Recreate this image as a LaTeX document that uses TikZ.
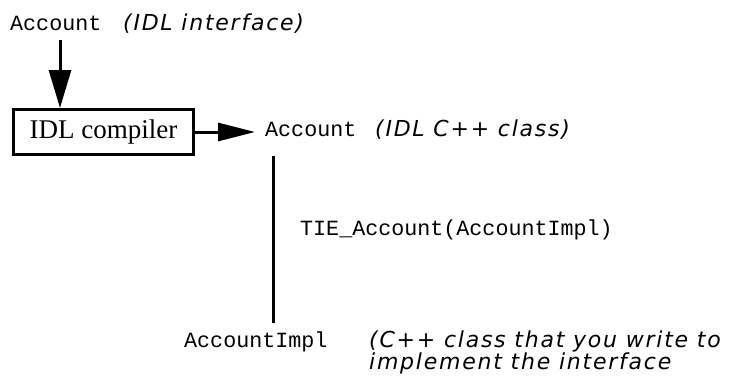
\documentclass[tikz,border=0pt]{standalone}
\usepackage{fontspec}
\setmainfont{Liberation Serif}
\newfontfamily\codefont{Liberation Mono}
\newfontfamily\notefont{DejaVu Sans}[LetterSpace=8]
\usepackage{tikz}
\usetikzlibrary{arrows.meta}

\begin{document}
\begin{tikzpicture}[x=1pt, y=-1pt]
				\tikzstyle{code}=[inner sep=0pt, anchor=base west, font=\codefont\fontsize{21.7}{26}\selectfont]
				\tikzstyle{note}=[inner sep=0pt, anchor=base west, font=\notefont\itshape\fontsize{22}{26}\selectfont]
				\tikzstyle{arr}=[-{Triangle[length=37pt,width=20pt]}, line width=3pt]
				\useasboundingbox (0,0) rectangle (734,381);
				%%% IDL INTERFACE %%%
				\node[code] (idl) at (10,30) {Account};
				\node[note] (idlnote) at (123,30) {(IDL interface)};
				%compiler box
				\node[draw, line width=3pt, minimum width=180pt, minimum height=45pt, inner sep=0pt,
				font=\fontsize{27}{30}\selectfont] (comp) at (103.5,132) {IDL compiler};
				%arrow into compiler
				\coordinate (d0) at (60,40);
				\draw[arr, -{Triangle[length=38pt,width=22pt]}] (d0) -- (d0 |- comp.north);
				%%% IDL C++ CLASS %%%
				\node[code] (cls) at (265,136) {Account};
				\node[note] (clsnote) at (375,136) {(IDL C++ class)};
				%arrow out of compiler
				\coordinate (t1) at (255,132);
				\draw[arr, -{Triangle[length=37pt,width=18pt]}] (comp) -- (t1);
				%%% TIE LINK %%%
				\coordinate (v0) at (273,156);
				\coordinate (v1) at (273,323);
				\draw[line width=3pt] (v0) -- (v1);
				\node[code] (tie) at (300,235) {TIE\_Account(AccountImpl)};
				%%% IMPLEMENTATION %%%
				\node[code] (impl) at (184,347) {AccountImpl};
				\node[note] (implnote) at (369,347) {(C++ class that you write to};
				\node[note] (implnote2) at (369,369) {implement the interface};
\end{tikzpicture}
\end{document}
